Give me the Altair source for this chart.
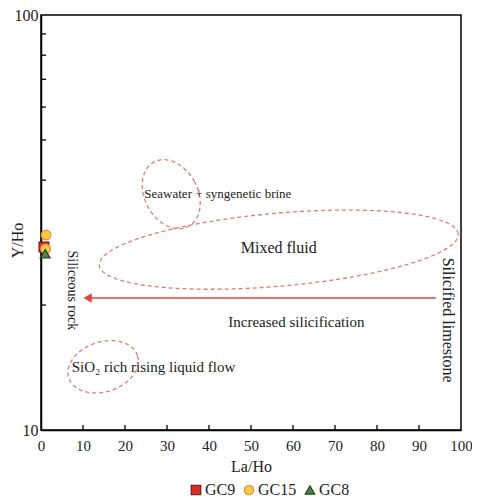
import altair as alt
import pandas as pd
import numpy as np

# ---- data ----
groups = ["GC9", "GC15", "GC15", "GC8"]
la_ho = [0.7, 1.2, 1.1, 1.0]
y_ho = [27.6, 29.5, 27.3, 26.6]

x_ticks = [0, 10, 20, 30, 40, 50, 60, 70, 80, 90, 100]
y_ticks = [10, 20, 30, 40, 50, 60, 70, 80, 90, 100]

# ellipse fields: centre (La/Ho, Y/Ho), half-width (La/Ho units), half-height (decades), tilt (deg)
ell_names = ["seawater", "mixed", "sio2"]
ell_cx = [31.0, 56.6, 14.8]
ell_cy = [37.0, 27.2, 14.2]
ell_rx = [6.3, 42.9, 8.6]
ell_ry = [0.088, 0.088, 0.060]
ell_tilt = [28, 5, 18]

arrow_from = 94.0
arrow_to = 10.2
arrow_y = 20.8

ann_text = ["Seawater + syngenetic brine", "Mixed fluid", "Increased silicification",
            "SiO\u2082 rich rising liquid flow", "Siliceous rock", "Silicified limestone"]
ann_x = [24.6, 56.6, 60.8, 7.3, 7.3, 97.0]
ann_y = [37.0, 27.4, 18.2, 14.2, 21.7, 18.4]
ann_angle = [0, 0, 0, 0, 90, 90]
ann_align = ["left", "center", "center", "left", "center", "center"]
ann_size = [13, 16, 15, 15, 14, 16]

# ---- build tables ----
W, H = 420, 415
FONT = "Liberation Serif"

pts = pd.DataFrame({"g": groups, "x": la_ho, "y": y_ho})

rows = []
t = np.linspace(0, 2 * np.pi, 121)
for n, cx, cy, rx, ry, th in zip(ell_names, ell_cx, ell_cy, ell_rx, ell_ry, ell_tilt):
    px = rx * W / 100 * np.cos(t)
    py = ry * H * np.sin(t)
    a = np.deg2rad(th)
    X = px * np.cos(a) - py * np.sin(a)
    Y = px * np.sin(a) + py * np.cos(a)
    for i, (xx, yy) in enumerate(zip(X, Y)):
        rows.append({"name": n, "i": i, "x": cx + xx * 100 / W, "y": cy * 10 ** (yy / H)})
ell = pd.DataFrame(rows)

ann = pd.DataFrame({"t": ann_text, "x": ann_x, "y": ann_y, "angle": ann_angle,
                    "align": ann_align, "size": ann_size})

xs = alt.Scale(domain=[0, 100], nice=False)
ys = alt.Scale(type="log", domain=[10, 100], nice=False)

base_x = alt.X("x:Q", scale=xs,
               axis=alt.Axis(values=x_ticks, title="La/Ho", ticks=False, grid=False,
                             labelFont=FONT, labelFontSize=15, labelColor="#222",
                             titleFont=FONT, titleFontSize=16, titleFontWeight="normal",
                             titleColor="#222", labelPadding=8, titlePadding=5,
                             domainColor="black", domainWidth=1.5, labelFlush=False))
base_y = alt.Y("y:Q", scale=ys,
               axis=alt.Axis(values=y_ticks, title="Y/Ho", ticks=False, grid=False,
                             labelExpr="datum.value == 10 || datum.value == 100 ? datum.label : ''",
                             labelFont=FONT, labelFontSize=16, labelColor="#222",
                             titleFont=FONT, titleFontSize=16, titleFontWeight="normal",
                             titleColor="#222", labelPadding=3,
                             titleX=-24, titleY=225, titleAlign="center", titleBaseline="middle",
                             domainColor="black", domainWidth=1.5, labelFlush=False))

ellipses = alt.Chart(ell).mark_line(color="#e07b72", strokeDash=[4, 3], strokeWidth=1.3).encode(
    x=base_x, y=base_y, detail="name:N", order="i:Q")

ytick_df = pd.DataFrame({"y": y_ticks[1:-1]})
yticks = alt.Chart(ytick_df).mark_rule(color="black", strokeWidth=1.3).encode(
    x=alt.value(0), x2=alt.value(5), y=alt.Y("y:Q", scale=ys))
xtick_df = pd.DataFrame({"x": x_ticks[1:-1]})
xticks = alt.Chart(xtick_df).mark_rule(color="black", strokeWidth=1.3).encode(
    y=alt.value(H), y2=alt.value(H - 5), x=alt.X("x:Q", scale=xs))

arrow_df = pd.DataFrame({"x": [arrow_from], "x2": [arrow_to + 1.5], "y": [arrow_y]})
arrow_line = alt.Chart(arrow_df).mark_rule(color="#e0463b", strokeWidth=1.6).encode(
    x=alt.X("x:Q", scale=xs), x2="x2:Q", y=alt.Y("y:Q", scale=ys))
head_df = pd.DataFrame({"x": [arrow_to + 0.9], "y": [arrow_y]})
arrow_head = alt.Chart(head_df).mark_point(shape="triangle-left", filled=True, color="#e0463b",
                                           size=90, opacity=1).encode(
    x=alt.X("x:Q", scale=xs), y=alt.Y("y:Q", scale=ys))

texts = []
for r in ann.itertuples():
    texts.append(alt.Chart(pd.DataFrame([{"t": r.t, "x": r.x, "y": r.y}])).mark_text(
        font=FONT, fontSize=int(r.size), color="#222", angle=int(r.angle), align=r.align,
        baseline="middle").encode(x=alt.X("x:Q", scale=xs), y=alt.Y("y:Q", scale=ys), text="t:N"))

order = ["GC9", "GC15", "GC8"]
points = alt.Chart(pts).mark_point(filled=True, size=95, strokeWidth=1.2, opacity=1).encode(
    x=alt.X("x:Q", scale=xs), y=alt.Y("y:Q", scale=ys),
    shape=alt.Shape("g:N", sort=order,
                    scale=alt.Scale(domain=order, range=["square", "circle", "triangle-up"]),
                    legend=alt.Legend(orient="none", legendX=147, legendY=467,
                                      direction="horizontal", title=None,
                                      labelFont=FONT, labelFontSize=16, labelColor="#222",
                                      symbolSize=90, columnPadding=5, labelOffset=1,
                                      padding=0, symbolStrokeWidth=1.2)),
    fill=alt.Fill("g:N", sort=order,
                  scale=alt.Scale(domain=order, range=["#d6302b", "#f7c948", "#4a8b3b"])),
    stroke=alt.Stroke("g:N", sort=order,
                      scale=alt.Scale(domain=order, range=["#6e1a12", "#e88e3a", "#24441d"])),
)

chart = alt.layer(ellipses, yticks, xticks, arrow_line, arrow_head, *texts, points).properties(
    width=W, height=H, background="white",
    autosize=alt.AutoSizeParams(type="none"),
    padding={"left": 33, "top": 7, "right": 11, "bottom": 68},
).configure_view(stroke="black", strokeWidth=1.5)

chart.save("out.html", embed_options={"renderer": "svg", "actions": False})
